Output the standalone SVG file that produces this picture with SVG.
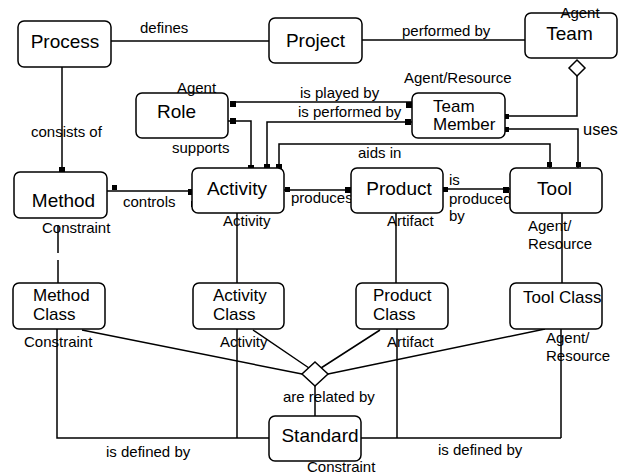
<svg xmlns="http://www.w3.org/2000/svg" width="623" height="474" viewBox="0 0 623 474">
<style>
.box{fill:#fff;stroke:#000;stroke-width:1.5}
.ln{fill:none;stroke:#000;stroke-width:1.5}
.dm{fill:#fff;stroke:#000;stroke-width:1.5}
.sq{fill:#000}
text{font-family:"Liberation Sans",Arial,sans-serif;fill:#000}
.big{font-size:19px}
.mid{font-size:17px}
.sm{font-size:15px}
.c{text-anchor:middle}
</style>
<rect width="623" height="474" fill="#fff"/>
<g id="connectors">
<path class="ln" d="M111,41 H269"/>
<path class="ln" d="M362,40 H525"/>
<path class="ln" d="M577,76 V116 H505"/>
<polygon class="dm" points="577,60 585,68 577,76 569,68"/>
<path class="ln" d="M230,102 H412"/>
<path class="ln" d="M412,122 H267 V168"/>
<path class="ln" d="M228,121 H251 V168"/>
<path class="ln" d="M279,168 V144 H550 V168"/>
<path class="ln" d="M505,129 H578 V168"/>
<path class="ln" d="M62,67 V172"/>
<path class="ln" d="M105,191 H192"/>
<path class="ln" d="M284,190 H351"/>
<path class="ln" d="M443,189 H510"/>
<path class="ln" d="M58,225 V253 M58,260 V283"/>
<path class="ln" d="M237,213 V283"/>
<path class="ln" d="M396,213 V283"/>
<path class="ln" d="M562,213 V283"/>
<path class="ln" d="M57,329 V438 H269"/>
<path class="ln" d="M237,329 V438"/>
<path class="ln" d="M397,329 V438 M361,438 H561 M561,329 V438"/>
<path class="ln" d="M82,330 L302,374 M253,330 L309,368 M380,330 L321,368 M545,329 L328,374 M315,386 V416"/>
<polygon class="dm" points="315,362 328,374 315,386 302,374"/>
<rect class="sq" x="59" y="167" width="6" height="6"/>
<rect class="sq" x="112" y="185" width="5" height="5"/>
<rect class="sq" x="188" y="189" width="6" height="6"/>
<rect class="sq" x="191" y="201" width="6" height="6"/>
<rect class="sq" x="230" y="101" width="6" height="6"/>
<rect class="sq" x="230" y="118" width="6" height="6"/>
<rect class="sq" x="406" y="102" width="6" height="6"/>
<rect class="sq" x="405" y="119" width="6" height="6"/>
<rect class="sq" x="248" y="165" width="6" height="6"/>
<rect class="sq" x="264" y="164" width="6" height="6"/>
<rect class="sq" x="276" y="164" width="6" height="6"/>
<rect class="sq" x="285" y="187" width="5" height="5"/>
<rect class="sq" x="345" y="187" width="6" height="6"/>
<rect class="sq" x="443" y="187" width="5" height="5"/>
<rect class="sq" x="503" y="187" width="6" height="6"/>
<rect class="sq" x="547" y="162" width="5" height="5"/>
<rect class="sq" x="576" y="162" width="5" height="5"/>
<rect class="sq" x="504" y="114" width="5" height="5"/>
<rect class="sq" x="504" y="127" width="5" height="5"/>
<text class="sm" x="140" y="33">defines</text>
<text class="sm" x="402" y="36">performed by</text>
<text class="sm" x="300" y="98">is played by</text>
<text class="sm" x="298" y="117">is performed by</text>
<text class="sm" x="172" y="153">supports</text>
<text class="sm" x="358" y="158">aids in</text>
<text x="583" y="135" style="font-size:16.5px">uses</text>
<text class="sm" x="31" y="137">consists of</text>
<text class="sm" x="123" y="207">controls</text>
<text class="sm" x="291" y="203">produces</text>
<text class="sm" x="449" y="185">is</text>
<text class="sm" x="449" y="204">produced</text>
<text class="sm" x="449" y="221">by</text>
<text class="sm" x="283" y="402">are related by</text>
<text class="sm" x="106" y="457">is defined by</text>
<text class="sm" x="438" y="455">is defined by</text>
</g>
<g id="process">
<rect class="box" x="18" y="21" width="93" height="46" rx="6"/>
<text class="big c" x="65" y="48">Process</text>
</g>
<g id="project">
<rect class="box" x="269" y="18" width="93" height="45" rx="6"/>
<text class="big c" x="315.5" y="47">Project</text>
</g>
<g id="team">
<rect class="box" x="525" y="13" width="92" height="45" rx="6"/>
<text class="sm c" x="580" y="18">Agent</text>
<text class="big c" x="569.5" y="40">Team</text>
</g>
<g id="role">
<rect class="box" x="136" y="93" width="92" height="45" rx="6"/>
<text class="sm c" x="196.5" y="93">Agent</text>
<text class="big c" x="176.5" y="118">Role</text>
</g>
<g id="team-member">
<rect class="box" x="412" y="93" width="93" height="45" rx="6"/>
<text class="sm" x="404" y="83">Agent/Resource</text>
<text class="mid" x="433" y="112">Team</text>
<text class="mid" x="433" y="130">Member</text>
</g>
<g id="method">
<rect class="box" x="14" y="172" width="93" height="46" rx="6"/>
<text class="big c" x="63.5" y="207">Method</text>
<text class="sm" x="42" y="233">Constraint</text>
</g>
<g id="activity">
<rect class="box" x="192" y="168" width="92" height="45" rx="6"/>
<text class="big c" x="237" y="195">Activity</text>
<text class="sm" x="223" y="226">Activity</text>
</g>
<g id="product">
<rect class="box" x="351" y="168" width="92" height="45" rx="6"/>
<text class="big c" x="399" y="195">Product</text>
<text class="sm" x="387" y="226">Artifact</text>
</g>
<g id="tool">
<rect class="box" x="510" y="168" width="92" height="45" rx="6"/>
<text class="big c" x="554.5" y="195">Tool</text>
<text class="sm" x="528" y="231">Agent/</text>
<text class="sm" x="528" y="249">Resource</text>
</g>
<g id="method-class">
<rect class="box" x="13" y="283" width="92" height="46" rx="6"/>
<text class="mid" x="33" y="301">Method</text>
<text class="mid" x="33" y="320">Class</text>
<text class="sm" x="24" y="347">Constraint</text>
</g>
<g id="activity-class">
<rect class="box" x="193" y="283" width="91" height="46" rx="6"/>
<text class="mid" x="213" y="301">Activity</text>
<text class="mid" x="213" y="320">Class</text>
<text class="sm" x="220" y="347">Activity</text>
</g>
<g id="product-class">
<rect class="box" x="356" y="283" width="92" height="46" rx="6"/>
<text class="mid" x="373" y="301">Product</text>
<text class="mid" x="373" y="320">Class</text>
<text class="sm" x="387" y="347">Artifact</text>
</g>
<g id="tool-class">
<rect class="box" x="510" y="283" width="92" height="46" rx="6"/>
<text class="mid" x="523" y="303">Tool Class</text>
<text class="sm" x="546" y="343">Agent/</text>
<text class="sm" x="546" y="361">Resource</text>
</g>
<g id="standard">
<rect class="box" x="269" y="416" width="92" height="45" rx="6"/>
<text class="big c" x="320" y="442">Standard</text>
<text class="sm" x="307" y="472">Constraint</text>
</g>
</svg>
